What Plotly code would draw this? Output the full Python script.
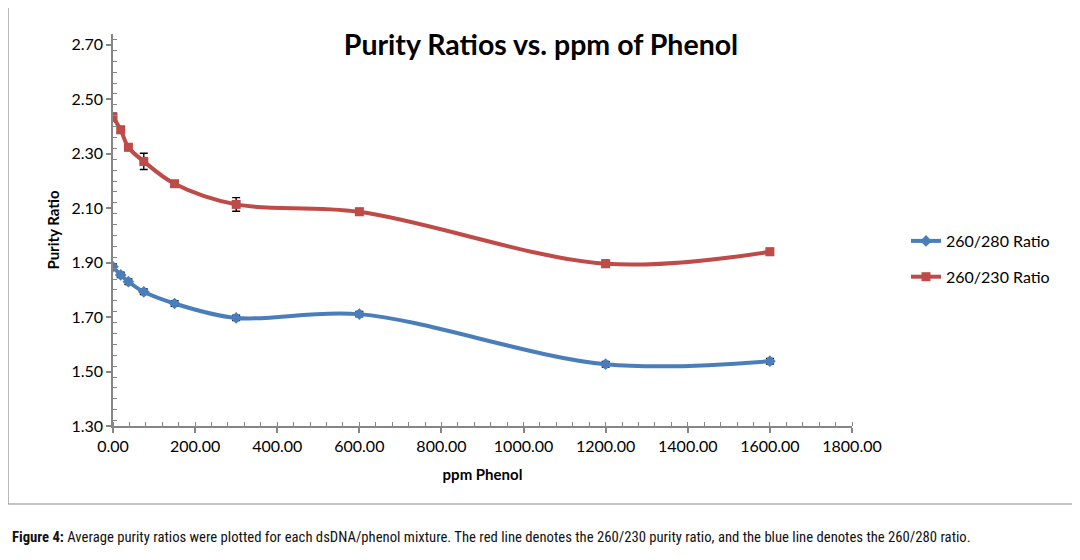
import plotly.graph_objects as go

ppm = [0, 18.75, 37.5, 75, 150, 300, 600, 1200, 1600]
ratio_280 = [1.885, 1.855, 1.830, 1.793, 1.750, 1.697, 1.711, 1.527, 1.538]
err_280 = [0.01, 0.01, 0.01, 0.01, 0.01, 0.01, 0.01, 0.01, 0.01]
ratio_230 = [2.435, 2.388, 2.324, 2.272, 2.190, 2.114, 2.087, 1.896, 1.940]
err_230 = [0.014, 0.012, 0.012, 0.03, 0.01, 0.025, 0.012, 0.013, 0.012]

x_ticks = [0, 200, 400, 600, 800, 1000, 1200, 1400, 1600, 1800]
y_ticks = [1.30, 1.50, 1.70, 1.90, 2.10, 2.30, 2.50, 2.70]

OFF = 8  # page body margin in the browser
W, H = 1072, 544
L, R, T, B = 113 - OFF, 852 - OFF, 34 - OFF, 426 - OFF  # plot area in figure pixels


def px(xp):
    return (xp - OFF - L) / (R - L)


def py(yp):
    return (B - (yp - OFF)) / (B - T)


font_main = "Lato, Open Sans, sans-serif"
axis_col = "#868686"

fig = go.Figure()
fig.add_trace(go.Scatter(
    x=ppm, y=ratio_280, name="260/280 Ratio", mode="lines+markers",
    line=dict(color="#4a7ebb", width=4, shape="spline", smoothing=1.0),
    marker=dict(symbol="diamond", size=9, color="#4a7ebb"),
    error_y=dict(type="data", array=err_280, color="black", thickness=1.4, width=4),
    legendgroup="a",
))
fig.add_trace(go.Scatter(
    x=ppm, y=ratio_230, name="260/230 Ratio", mode="lines+markers",
    line=dict(color="#be4b48", width=4, shape="spline", smoothing=1.0),
    marker=dict(symbol="square", size=9, color="#be4b48"),
    error_y=dict(type="data", array=err_230, color="black", thickness=1.4, width=4),
    legendgroup="b",
))

fig.update_layout(
    width=W, height=H,
    margin=dict(l=L, r=W - R, t=T, b=H - B),
    paper_bgcolor="white", plot_bgcolor="white",
    font=dict(family=font_main, color="#000000", size=16),
    title=dict(text="<b>Purity Ratios vs. ppm of Phenol</b>", xref="paper", x=px(541), xanchor="center",
               yref="container", y=1 - (45 - OFF) / H, yanchor="middle",
               font=dict(size=28.5, family=font_main)),
    showlegend=True,
    legend=dict(x=px(906), xanchor="left", y=py(259), yanchor="middle",
                font=dict(size=16, family=font_main), tracegroupgap=12,
                traceorder="grouped", bgcolor="rgba(0,0,0,0)", itemwidth=30),
    xaxis=dict(range=[0, 1800], tickvals=x_ticks,
               ticktext=[f"{v:.2f}" for v in x_ticks],
               showgrid=False, zeroline=False, showline=True, linecolor=axis_col, linewidth=1.5,
               ticks="outside", ticklen=5, tickcolor=axis_col, tickwidth=1.5,
               minor=dict(dtick=40, ticks="inside", ticklen=4, tickcolor=axis_col, tickwidth=1.2, showgrid=False),
               tickfont=dict(size=16, color="#000000"),
               title=dict(text="<b>ppm Phenol</b>", font=dict(size=15), standoff=16)),
    yaxis=dict(range=[1.30, 2.74], tickvals=y_ticks,
               ticktext=[f"{v:.2f}" for v in y_ticks],
               showgrid=False, zeroline=False, showline=True, linecolor=axis_col, linewidth=1.5,
               ticks="outside", ticklen=5, tickcolor=axis_col, tickwidth=1.5,
               minor=dict(dtick=0.04, ticks="inside", ticklen=4, tickcolor=axis_col, tickwidth=1.2, showgrid=False),
               tickfont=dict(size=16, color="#000000"),
               title=dict(text="<b>Purity Ratio</b>", font=dict(size=15), standoff=8)),
)

# outer chart border
fig.add_shape(type="rect", xref="paper", yref="paper",
              x0=px(8), x1=px(1075), y0=py(504), y1=py(7),
              line=dict(color="#8c8c8c", width=1.2), fillcolor="rgba(0,0,0,0)", layer="below")

# caption
fig.add_annotation(
    xref="paper", yref="paper", x=px(10), y=py(537), xanchor="left", yanchor="middle",
    showarrow=False,
    text="<b>Figure 4:</b> Average purity ratios were plotted for each dsDNA/phenol mixture. "
         "The red line denotes the 260/230 purity ratio, and the blue line denotes the 260/280 ratio.",
    font=dict(family="Liberation Sans Narrow, Roboto Condensed, Liberation Sans, sans-serif",
              size=14.7, color="#111111"),
)

fig.write_html("out.html")
